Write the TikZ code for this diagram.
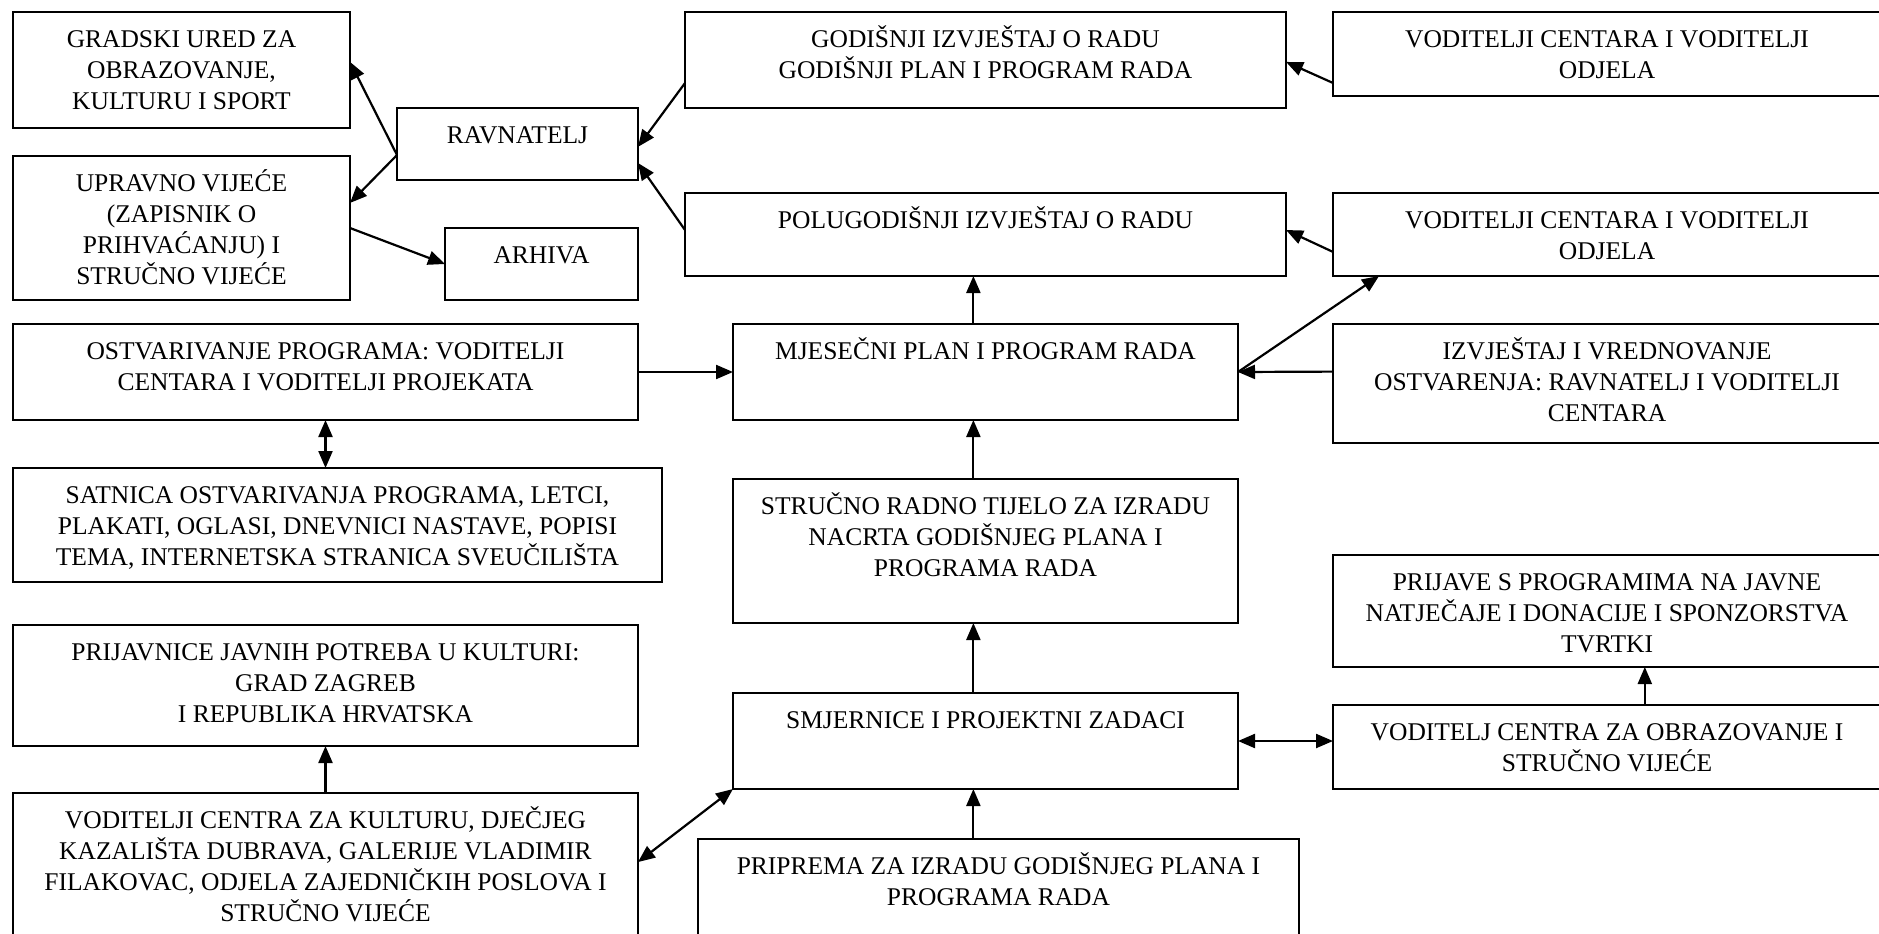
\documentclass[tikz,border=0pt]{standalone}
\usepackage{fontspec}
\setmainfont{Liberation Serif}
\usetikzlibrary{arrows.meta,calc}
\tikzset{
  box/.style={draw, line width=1.8pt, inner sep=0pt, outer sep=0pt, anchor=north west},
  txt/.style={inner sep=0pt, outer sep=0pt, align=center, anchor=north, font=\fontsize{25.5}{31}\selectfont},
  conn/.style={line width=2.2pt, -{Triangle[length=17pt,width=14pt]}},
  dconn/.style={line width=2.2pt, {Triangle[length=17pt,width=14pt]}-{Triangle[length=17pt,width=14pt]}}
}
\newcommand{\mybox}[6]{%
  \node[box, minimum width={#4pt-#2pt}, minimum height={#5pt-#3pt}] (#1) at (#2,#3) {};
  \node[txt] (#1-t) at (#1.north) {\rule{0pt}{35pt}#6};
}
\begin{document}
\begin{tikzpicture}[x=1pt,y=-1pt]
\useasboundingbox (0,0) rectangle (1879,934);
\clip (0,0) rectangle (1879,934);
\fill[white] (0,0) rectangle (1879,934);

\mybox{gradski}{13}{12}{350}{128}{GRADSKI URED ZA\\OBRAZOVANJE,\\KULTURU I SPORT}
\mybox{rav}{397}{108}{638}{180}{RAVNATELJ}
\mybox{upr}{13}{156}{350}{300}{UPRAVNO VIJEĆE\\(ZAPISNIK O\\PRIHVAĆANJU) I\\STRUČNO VIJEĆE}
\mybox{arh}{445}{228}{638}{300}{ARHIVA}
\mybox{god}{685}{12}{1286}{108}{GODIŠNJI IZVJEŠTAJ O RADU\\GODIŠNJI PLAN I PROGRAM RADA}
\mybox{pol}{685}{193}{1286}{276}{POLUGODIŠNJI IZVJEŠTAJ O RADU}
\mybox{vodA}{1333}{12}{1881}{96}{VODITELJI CENTARA I VODITELJI\\ODJELA}
\mybox{vodB}{1333}{193}{1881}{276}{VODITELJI CENTARA I VODITELJI\\ODJELA}
\mybox{ostv}{13}{324}{638}{420}{OSTVARIVANJE PROGRAMA: VODITELJI\\CENTARA I VODITELJI PROJEKATA}
\mybox{mjes}{733}{324}{1238}{420}{MJESEČNI PLAN I PROGRAM RADA}
\mybox{izvj}{1333}{324}{1881}{443}{IZVJEŠTAJ I VREDNOVANJE\\OSTVARENJA: RAVNATELJ I VODITELJI\\CENTARA}
\mybox{satn}{13}{468}{662}{582}{SATNICA OSTVARIVANJA PROGRAMA, LETCI,\\PLAKATI, OGLASI, DNEVNICI NASTAVE, POPISI\\TEMA, INTERNETSKA STRANICA SVEUČILIŠTA}
\mybox{stru}{733}{479}{1238}{623}{STRUČNO RADNO TIJELO ZA IZRADU\\NACRTA GODIŠNJEG PLANA I\\PROGRAMA RADA}
\mybox{prijave}{1333}{555}{1881}{667}{PRIJAVE S PROGRAMIMA NA JAVNE\\NATJEČAJE I DONACIJE I SPONZORSTVA\\TVRTKI}
\mybox{prijavnice}{13}{625}{638}{746}{PRIJAVNICE JAVNIH POTREBA U KULTURI:\\GRAD ZAGREB\\I REPUBLIKA HRVATSKA}
\mybox{smj}{733}{693}{1238}{789}{SMJERNICE I PROJEKTNI ZADACI}
\mybox{vodobr}{1333}{705}{1881}{789}{VODITELJ CENTRA ZA OBRAZOVANJE I\\STRUČNO VIJEĆE}
\mybox{vodkult}{13}{793}{638}{950}{VODITELJI CENTRA ZA KULTURU, DJEČJEG\\KAZALIŠTA DUBRAVA, GALERIJE VLADIMIR\\FILAKOVAC, ODJELA ZAJEDNIČKIH POSLOVA I\\STRUČNO VIJEĆE}
\mybox{prip}{698}{839}{1299}{950}{PRIPREMA ZA IZRADU GODIŠNJEG PLANA I\\PROGRAMA RADA}

% helper coordinates on box edges
\coordinate (cx) at ($(mjes.north west)!0.476!(mjes.north east)$);
\coordinate (ravW) at ($(rav.north west)!0.653!(rav.south west)$);
\coordinate (ravE1) at ($(rav.north east)!0.54!(rav.south east)$);
\coordinate (ravE2) at ($(rav.north east)!0.764!(rav.south east)$);
\coordinate (gradE) at ($(gradski.north east)!0.43!(gradski.south east)$);
\coordinate (uprE) at ($(upr.north east)!0.326!(upr.south east)$);
\coordinate (godW) at ($(god.north west)!0.74!(god.south west)$);
\coordinate (godE) at ($(god.north east)!0.52!(god.south east)$);
\coordinate (polW) at ($(pol.north west)!0.446!(pol.south west)$);
\coordinate (polE) at ($(pol.north east)!0.446!(pol.south east)$);
\coordinate (vodAW) at ($(vodA.north west)!0.845!(vodA.south west)$);
\coordinate (vodBW) at ($(vodB.north west)!0.71!(vodB.south west)$);
\coordinate (vodBS) at ($(vodB.south west)!0.084!(vodB.south east)$);
\coordinate (izvjW) at ($(izvj.north west)!0.40!(izvj.south west)$);
\coordinate (vodobrN) at ($(vodobr.north west)!0.569!(vodobr.north east)$);
\coordinate (vodkultE) at ($(vodkult.north east)!0.44!(vodkult.south east)$);

\draw[conn] (ravW) -- (gradE);
\draw[conn] (ravW) -- (uprE);
\draw[conn] (upr.east) -- (arh.west);
\draw[conn] (godW) -- (ravE1);
\draw[conn] (polW) -- (ravE2);
\draw[conn] (vodAW) -- (godE);
\draw[conn] (vodBW) -- (polE);
\draw[conn] (cx |- mjes.north) -- (cx |- pol.south);
\draw[conn] (mjes.east) -- (vodBS);
\draw[conn] (ostv.east) -- (mjes.west);
\draw[conn] (izvjW) -- (mjes.east);
\draw[dconn] (ostv.south) -- (ostv.south |- satn.north);
\draw[conn] (cx |- stru.north) -- (cx |- mjes.south);
\draw[conn] (cx |- smj.north) -- (cx |- stru.south);
\draw[conn] (cx |- prip.north) -- (cx |- smj.south);
\draw[dconn] (smj.east) -- (smj.east -| vodobr.west);
\draw[dconn] (smj.south west) -- (vodkultE);
\draw[conn] (vodobrN) -- (vodobrN |- prijave.south);
\draw[conn] (vodkult.north) -- (vodkult.north |- prijavnice.south);
\end{tikzpicture}
\end{document}
